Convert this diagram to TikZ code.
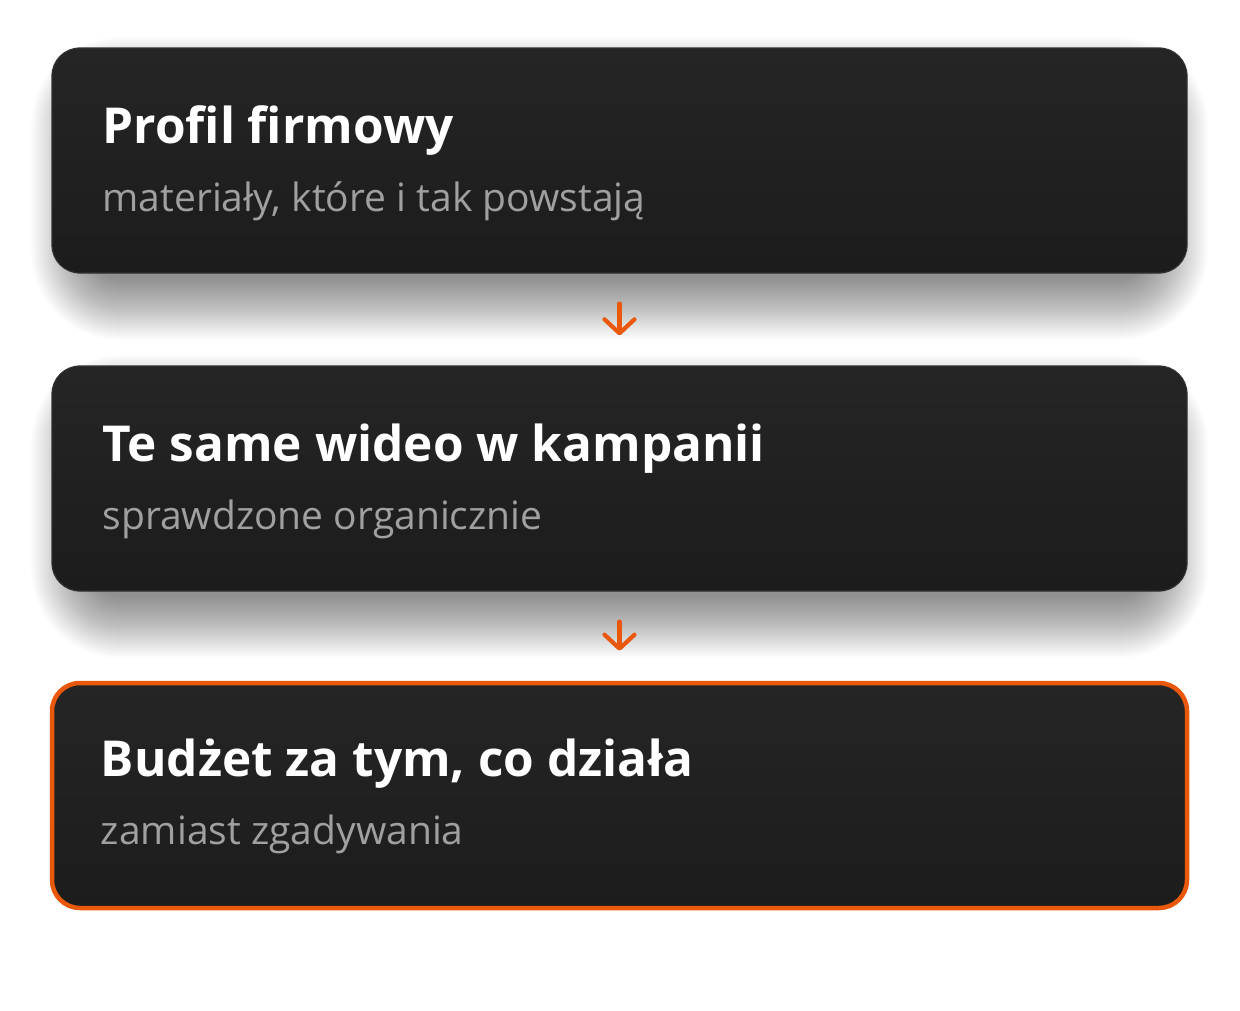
\documentclass[tikz,border=0pt]{standalone}
\usepackage{fontspec}
\setmainfont{Open Sans}
\usetikzlibrary{arrows.meta,positioning,calc,backgrounds}
\definecolor{cardtop}{HTML}{252525}
\definecolor{cardbot}{HTML}{1C1C1C}
\definecolor{cardline}{HTML}{303030}
\definecolor{accent}{HTML}{EA580C}
\definecolor{subgray}{HTML}{A0A0A0}

\begin{document}
\begin{tikzpicture}[x=1pt,y=-1pt]
\tikzset{card/.style={rounded corners=28pt, minimum width=1135pt, minimum height=225pt, inner sep=0pt,
top color=cardtop, bottom color=cardbot, draw=cardline, line width=1.2pt}}
\tikzset{hot/.style={card, draw=accent, line width=4.5pt}}
\tikzset{title/.style={anchor=base west, inner sep=0pt, text=white, font=\fontsize{49.5}{60}\selectfont\bfseries}}
\tikzset{sub/.style={anchor=base west, inner sep=0pt, text=subgray, font=\fontsize{39}{46}\selectfont}}
\tikzset{flow/.style={draw=accent, line width=4.2pt, line cap=round, line join=round,
-{Straight Barb[length=14pt,width=30pt,round]}}}
\tikzset{glow/.style={fill=black, opacity=0.016}}
\useasboundingbox (0,0) rectangle (1240,1010);

\node[card] (profil) at (619.5,160.5) {};
\node[card] (kampania) at (619.5,478.5) {};
\node[hot] (budzet) at (619.5,795.5) {};

\node[title] (profilT) at ($(profil.north west)+(51,96)$) {Profil firmowy};
\node[sub] (profilS) at ($(profilT.base west)+(0,68)$) {materiały, które i tak powstają};
\node[title] (kampaniaT) at ($(kampania.north west)+(51,96)$) {Te same wideo w kampanii};
\node[sub] (kampaniaS) at ($(kampaniaT.base west)+(0,68)$) {sprawdzone organicznie};
\node[title] (budzetT) at ($(budzet.north west)+(51,96)$) {Budżet za tym, co działa};
\node[sub] (budzetS) at ($(budzetT.base west)+(0,68)$) {zamiast zgadywania};

\draw[flow] ($(profil.south)+(0,30)$) -- ($(kampania.north)+(0,-30)$);
\draw[flow] ($(kampania.south)+(0,30)$) -- ($(budzet.north)+(0,-30)$);

% soft shadows under the first two cards
\begin{scope}[on background layer]
\fill[white] (0,0) rectangle (1240,1010);
\foreach \b in {profil,kampania}
  \foreach \r in {0,2,...,60} {
    \pgfmathsetmacro\rr{28+\r}
    \fill[glow, rounded corners=\rr pt] ($(\b.north west)+(40-\r,50-\r)$) rectangle ($(\b.south east)+(-40+\r,6+\r)$);
  }
\end{scope}
\end{tikzpicture}
\end{document}
